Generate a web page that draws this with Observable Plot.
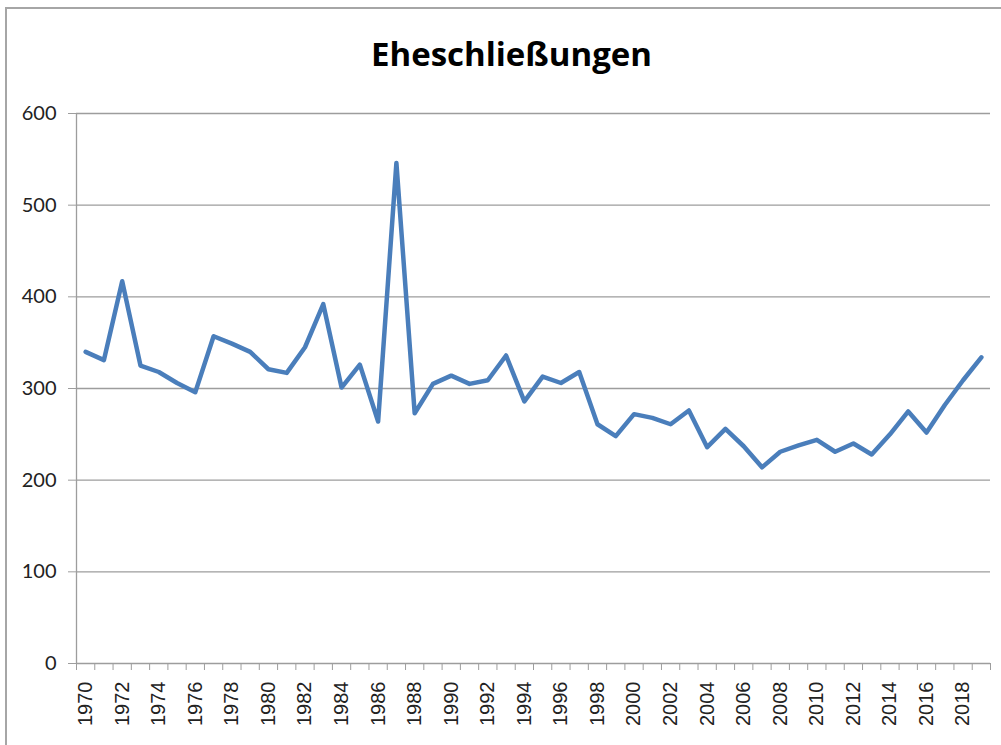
<!DOCTYPE html>
<html>
<head>
<meta charset="utf-8">
<script src="https://cdn.jsdelivr.net/npm/d3@7"></script>
<script src="https://cdn.jsdelivr.net/npm/@observablehq/plot@0.6"></script>
<style>
  html, body { margin: 0; padding: 0; background: white; overflow: hidden; }
  #frame { position: absolute; left: 5px; top: 7px; width: 1020px; height: 780px; border: 2px solid #a6a6a6; box-sizing: border-box; }
  #wrap { position: absolute; left: 0; top: 0; width: 1001px; height: 745px; }
  #title { height: 95px; width: 1001px; box-sizing: border-box; padding-top: 37px; text-align: center; font-family: "Open Sans", Lato, sans-serif; font-weight: bold; font-size: 33px; color: #000; line-height: 1; padding-left: 22px; }
</style>
</head>
<body>
<div id="frame"></div>
<div id="wrap">
  <div id="title">Eheschließungen</div>
  <div id="chart"></div>
</div>
<script>
const title = "Eheschließungen";
const years = d3.range(1970, 2020);
const values = [
  340, 331, 417, 325, 318, 306, 296, 357, 349, 340,
  321, 317, 345, 392, 301, 326, 264, 546, 273, 305,
  314, 305, 309, 336, 286, 313, 306, 318, 261, 248,
  272, 268, 261, 276, 236, 256, 237, 214, 231, 238,
  244, 231, 240, 228, 250, 275, 252, 282, 309, 334
];
const yTicks = [0, 100, 200, 300, 400, 500, 600];
const labelYears = years.filter(y => y % 2 === 0);

const data = years.map((year, i) => ({year, value: values[i]}));
const edges = years.map(y => y - 0.5).concat([years[years.length - 1] + 0.5]);

const chart = Plot.plot({
  width: 1001,
  height: 650,
  marginLeft: 76,
  marginRight: 11,
  marginTop: 18,
  marginBottom: 82,
  style: {background: "transparent", overflow: "visible"},
  x: {type: "linear", domain: [years[0] - 0.5, years[years.length - 1] + 0.5]},
  y: {domain: [0, 600]},
  marks: [
    Plot.ruleY(yTicks, {stroke: "#9d9d9d", strokeWidth: 1.3}),
    Plot.ruleX([years[0] - 0.5], {y1: 0, y2: 600, stroke: "#9d9d9d", strokeWidth: 1.3}),
    Plot.axisY(yTicks, {tickSize: 8, tickPadding: 12, stroke: "#9d9d9d", strokeOpacity: 1, fontSize: 20, fontFamily: "Lato, 'Open Sans', sans-serif", fill: "#222", tickFormat: d => String(d), label: null}),
    Plot.axisX(edges, {tickSize: 7, tickFormat: () => "", stroke: "#9d9d9d", strokeOpacity: 1, label: null}),
    Plot.axisX(labelYears, {tickSize: 0, tickPadding: 18, tickRotate: -90, fontSize: 20, fontFamily: "'Liberation Sans', Arial, sans-serif", fill: "#222", tickFormat: d => String(d), label: null}),
    Plot.line(data, {x: "year", y: "value", stroke: "#4a7ebb", strokeWidth: 4.5, strokeLinejoin: "round", strokeLinecap: "round"})
  ]
});
document.getElementById("chart").appendChild(chart);
</script>
</body>
</html>
